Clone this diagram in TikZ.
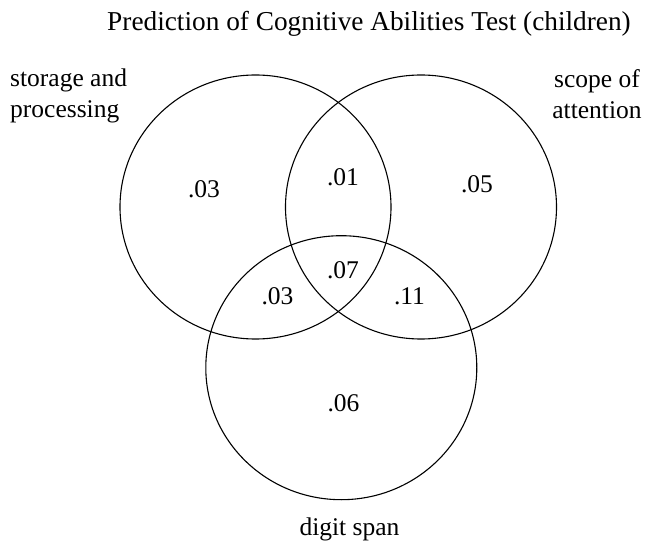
\documentclass[tikz,border=0pt]{standalone}
\usepackage{fontspec}
\setmainfont{Liberation Serif}
\usetikzlibrary{shapes.geometric}

\begin{document}
\begin{tikzpicture}[x=1pt,y=-1pt,
  every node/.style={font=\fontsize{25.5}{31}\selectfont},
  set/.style={draw,ellipse,line width=1.1pt,inner sep=0pt,minimum width=271pt,minimum height=264pt},
  share/.style={anchor=base,inner sep=0pt}]
\useasboundingbox (0,0) rectangle (646,548);

% the three sets
\node[set] (storage) at (255.5,207) {};
\node[set] (scope) at (421,207) {};
\node[set] (digit) at (341.3,367.7) {};

% titles
\node[share,font=\fontsize{27.3}{33}\selectfont] (title) at (369,31) {Prediction of Cognitive Abilities Test (children)};
\node[anchor=north west,inner sep=0pt,align=left] (storagelab) at (10,69) {storage and\\processing};
\node[anchor=north,inner sep=0pt,align=center] (scopelab) at (597,69.5) {scope of\\attention};
\node[share] (digitlab) at (349.5,535) {digit span};

% shares of variance
\node[share] (s) at (204,198) {.03};
\node[share] (sa) at (343,185.7) {.01};
\node[share] (a) at (477,192.7) {.05};
\node[share] (sad) at (343,279) {.07};
\node[share] (sd) at (277.5,305) {.03};
\node[share] (ad) at (409.5,305) {.11};
\node[share] (d) at (343.5,411.7) {.06};
\end{tikzpicture}
\end{document}
